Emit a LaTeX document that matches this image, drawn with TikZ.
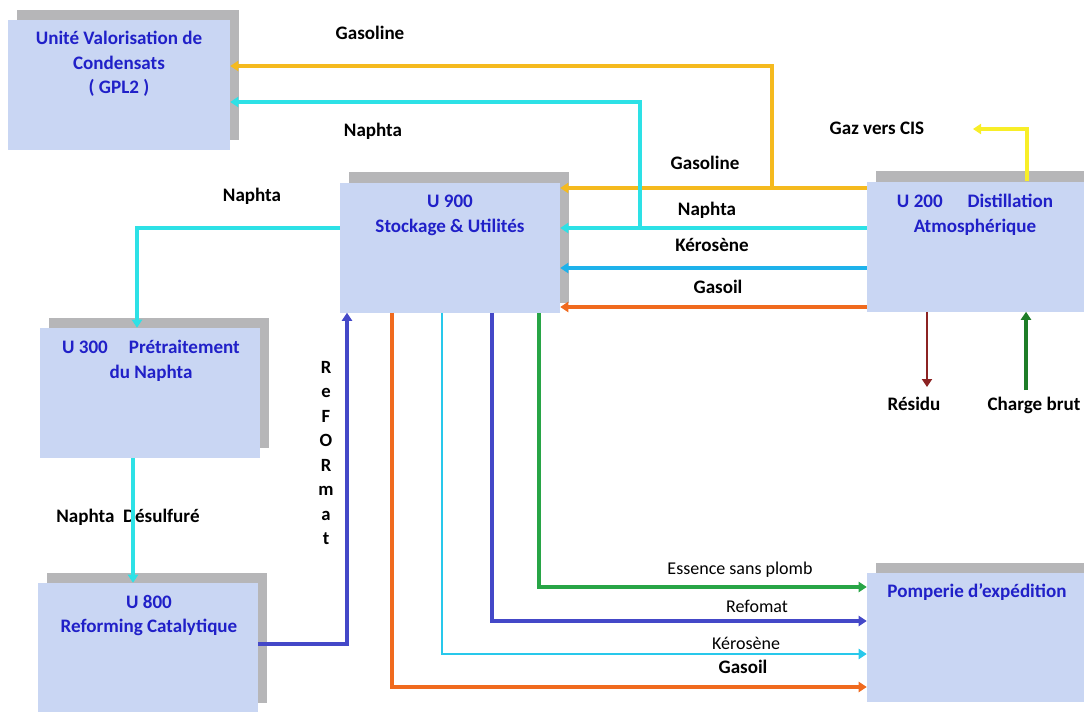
\documentclass[tikz,border=0pt]{standalone}
\usepackage{fontspec}
\setmainfont{Carlito}
\usepackage{xcolor}
\usepackage{tikz}
\usetikzlibrary{arrows.meta,calc,backgrounds}

\definecolor{boxfill}{RGB}{201,214,243}
\definecolor{shadowgrey}{RGB}{182,182,184}
\definecolor{unitblue}{RGB}{32,32,200}
\definecolor{gasolineC}{RGB}{245,186,30}
\definecolor{naphtaC}{RGB}{45,225,230}
\definecolor{keroC}{RGB}{30,178,235}
\definecolor{keroBC}{RGB}{40,200,235}
\definecolor{gasoilC}{RGB}{240,106,30}
\definecolor{refC}{RGB}{68,72,200}
\definecolor{essC}{RGB}{40,165,70}
\definecolor{gazC}{RGB}{248,238,40}
\definecolor{residuC}{RGB}{140,35,35}
\definecolor{brutC}{RGB}{30,125,40}

\tikzset{
  unitbox/.style={rectangle, fill=boxfill, inner sep=0pt, minimum width=165pt, minimum height=97.5pt},
  unittext/.style={align=center, text=unitblue, inner sep=0pt, font=\fontsize{14.3}{18.5}\selectfont\bfseries},
  flowlabel/.style={inner sep=0pt, text height=9.2pt, text depth=0pt, font=\fontsize{14.3}{17}\selectfont\bfseries},
  thinlabel/.style={inner sep=0pt, text height=8.7pt, text depth=0pt, font=\fontsize{13.5}{16}\selectfont},
  vertlabel/.style={align=center, inner sep=0pt, font=\fontsize{14}{18.4}\selectfont\bfseries},
  flowtip/.style={-{Triangle[length=6pt,width=7.5pt]}},
  gasline/.style={flowtip, draw=gasolineC, line width=2.4pt},
  naphline/.style={flowtip, draw=naphtaC, line width=2.4pt},
  keroline/.style={flowtip, draw=keroC, line width=2.4pt},
  gasoilline/.style={flowtip, draw=gasoilC, line width=2.4pt},
  refline/.style={flowtip, draw=refC, line width=3.4pt},
  essline/.style={flowtip, draw=essC, line width=3.4pt},
  gazline/.style={flowtip, draw=gazC, line width=2.4pt},
  residuline/.style={flowtip, draw=residuC, line width=1.5pt},
  brutline/.style={flowtip, draw=brutC, line width=2.6pt},
}

\begin{document}
\begin{tikzpicture}[x=0.75pt,y=0.75pt,yscale=-1,xscale=1]
\useasboundingbox (0,0) rectangle (1084,711);

%Shape: units
\node[unitbox, minimum width=166.5pt] (gpl) at (119,85) {};
\node[unitbox] (stock) at (450,247.5) {};
\node[unitbox] (dist) at (977,246.5) {};
\node[unitbox] (pretr) at (150,393) {};
\node[unitbox] (reform) at (148,648) {};
\node[unitbox, minimum height=96.75pt] (pomp) at (977,637.5) {};

%Shape: shadows behind the units
\begin{scope}[on background layer]
\foreach \u in {gpl,stock,dist,pretr,reform,pomp}
  \fill[shadowgrey] ($(\u.south west)+(9,-10)$) rectangle ($(\u.north east)+(9,-10)$);
\end{scope}

% Text Node
\node[unittext] (gpltxt) at (119,64) {Unité Valorisation de\\Condensats\\( GPL2 )};
% Text Node
\node[unittext] (stocktxt) at (450,215.5) {U 900\\Stockage \& Utilités};
% Text Node
\node[unittext] (disttxt) at (975,214.5) {U 200\hspace{1.3em}Distillation\\Atmosphérique};
% Text Node
\node[unittext] (pretrtxt) at (151,360.5) {U 300\hspace{1.1em}Prétraitement\\du Naphta};
% Text Node
\node[unittext] (reformtxt) at (149,615.5) {U 800\\Reforming Catalytique};
% Text Node
\node[unittext] (pomptxt) at (977,592) {Pomperie d’expédition};

% Text Node
\node[flowlabel] (lblgastop) at (370,33) {Gasoline};
% Text Node
\node[flowlabel] (lblnaphtop) at (373,130) {Naphta};
% Text Node
\node[flowlabel] (lblgasmid) at (705,163) {Gasoline};
% Text Node
\node[flowlabel] (lblnaphmid) at (707,209) {Naphta};
% Text Node
\node[flowlabel] (lblkero) at (712,245) {Kérosène};
% Text Node
\node[flowlabel] (lblgasoil) at (718,287) {Gasoil};
% Text Node
\node[flowlabel] (lblnaphleft) at (252,195) {Naphta};
% Text Node
\node[flowlabel] (lblgaz) at (877,128) {Gaz vers CIS};
% Text Node
\node[flowlabel] (lblresidu) at (914,404) {Résidu};
% Text Node
\node[flowlabel] (lblbrut) at (1034,404) {Charge brut};
% Text Node
\node[flowlabel] (lbldesulf) at (128,516) {Naphta\hspace{0.45em}Désulfuré};
% Text Node
\node[vertlabel] (lblrefv) at (326,453) {R\\e\\F\\O\\R\\m\\a\\t};
% Text Node
\node[thinlabel] (lblessence) at (740,569) {Essence sans plomb};
% Text Node
\node[thinlabel] (lblrefo) at (757,607) {Refomat};
% Text Node
\node[thinlabel] (lblkerob) at (746,644) {Kérosène};
% Text Node
\node[flowlabel] (lblgasoilb) at (743,667) {Gasoil};

%Straight Lines: corners of the flows
\coordinate (gasjoint) at (772,188);
\coordinate (gastop) at (772,66);
\coordinate (naphjoint) at (640,228);
\coordinate (naphtop) at (640,102);
\coordinate (naphleft) at (137,228);
\coordinate (kerolvl) at (700,268);
\coordinate (gasoillvl) at (700,307);
\coordinate (desx) at (133,520);
\coordinate (refcorner) at (347,644);
\coordinate (gasoilcorner) at (392,687);
\coordinate (kerocorner) at (442,654);
\coordinate (refocorner) at (492,621);
\coordinate (esscorner) at (539,587);
\coordinate (gazcorner) at (1027,129);
\coordinate (gaztip) at (973,129);
\coordinate (residutip) at (927,387);
\coordinate (brutfoot) at (1026,390);

%Straight Lines
\draw[gasline] (dist.west |- gasjoint) -- (stock.east |- gasjoint);
\draw[gasline] (gasjoint) -- (gastop) -- (gpl.east |- gastop);
%Straight Lines
\draw[naphline] (dist.west |- naphjoint) -- (stock.east |- naphjoint);
\draw[naphline] (naphjoint) -- (naphtop) -- (gpl.east |- naphtop);
\draw[naphline] (stock.west |- naphleft) -- (naphleft) -- (naphleft |- pretr.north);
\draw[naphline] (pretr.south -| desx) -- (reform.north -| desx);
%Straight Lines
\draw[keroline] (dist.west |- kerolvl) -- (stock.east |- kerolvl);
\draw[gasoilline] (dist.west |- gasoillvl) -- (stock.east |- gasoillvl);
%Straight Lines
\draw[refline] (reform.east |- refcorner) -- (refcorner) -- (refcorner |- stock.south);
%Straight Lines
\draw[essline] (stock.south -| esscorner) -- (esscorner) -- (pomp.west |- esscorner);
\draw[refline] (stock.south -| refocorner) -- (refocorner) -- (pomp.west |- refocorner);
\draw[keroline, draw=keroBC, line width=2pt] (stock.south -| kerocorner) -- (kerocorner) -- (pomp.west |- kerocorner);
\draw[gasoilline] (stock.south -| gasoilcorner) -- (gasoilcorner) -- (pomp.west |- gasoilcorner);
%Straight Lines
\draw[gazline] (dist.north -| gazcorner) -- (gazcorner) -- (gaztip);
\draw[residuline] (dist.south -| residutip) -- (residutip);
\draw[brutline] (brutfoot) -- (dist.south -| brutfoot);

\end{tikzpicture}
\end{document}
